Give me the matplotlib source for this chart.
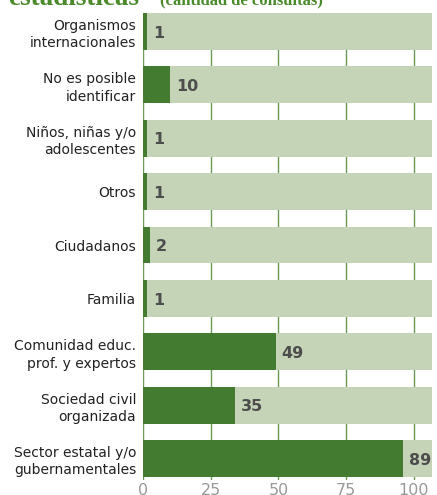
import numpy as np
import matplotlib
matplotlib.use("Agg")
import matplotlib.pyplot as plt

# Datos (cantidad de consultas)
categorias = [
    "Organismos\ninternacionales",
    "No es posible\nidentificar",
    "Niños, niñas y/o\nadolescentes",
    "Otros",
    "Ciudadanos",
    "Familia",
    "Comunidad educ.\nprof. y expertos",
    "Sociedad civil\norganizada",
    "Sector estatal y/o\ngubernamentales",
]
etiquetas = [1, 10, 1, 1, 2, 1, 49, 35, 89]
# largo de barra
valores = [1.5, 10, 1.5, 1.5, 2.5, 1.5, 49, 34, 96]
fondo = 106.6
ticks_x = [0, 25, 50, 75, 100]

verde = "#437C30"
verde_claro = "#C5D3B7"

plt.rcParams["font.family"] = ["DejaVu Sans"]

fig = plt.figure(figsize=(4.37, 4.95), dpi=100)
ax = fig.add_axes([143 / 437, 15 / 495, 294 / 437, 467 / 495])

y = np.arange(len(categorias))
ax.barh(y, [fondo] * len(y), height=0.69, color=verde_claro, zorder=2)
ax.barh(y, valores, height=0.69, color=verde, zorder=3)

for yi, v, et in zip(y, valores, etiquetas):
    ax.text(v + 2.2, yi + 0.03, str(et), va="center", ha="left",
            fontsize=11.5, fontweight="bold", color="#4d4d4d", zorder=4)

ax.set_xlim(0, 108.5)
ax.set_ylim(8.40, -0.346)
ax.set_yticks(y)
ax.set_yticklabels(categorias, fontsize=10, color="#222222", linespacing=1.3)
ax.set_xticks(ticks_x)
ax.set_xticklabels([str(t) for t in ticks_x], fontsize=11.5, color="#999999")
ax.tick_params(axis="both", length=0)
ax.tick_params(axis="x", pad=2)
ax.tick_params(axis="y", pad=5)

ax.grid(axis="x", color="#6a9a55", linewidth=1.0, zorder=0)
ax.set_axisbelow(True)
for s in ax.spines.values():
    s.set_visible(False)

fig.text(8 / 437, 1 - 5 / 495, "estadísticas", fontsize=19.5, fontweight="bold",
         color="#4a8a2a", family="Liberation Serif", va="baseline", ha="left")
fig.text(160 / 437, 1 - 4 / 495, "(cantidad de consultas)", fontsize=12,
         fontweight="bold", color="#4a8a2a", family="Liberation Serif",
         va="baseline", ha="left")

fig.savefig("out.png", dpi=100)
